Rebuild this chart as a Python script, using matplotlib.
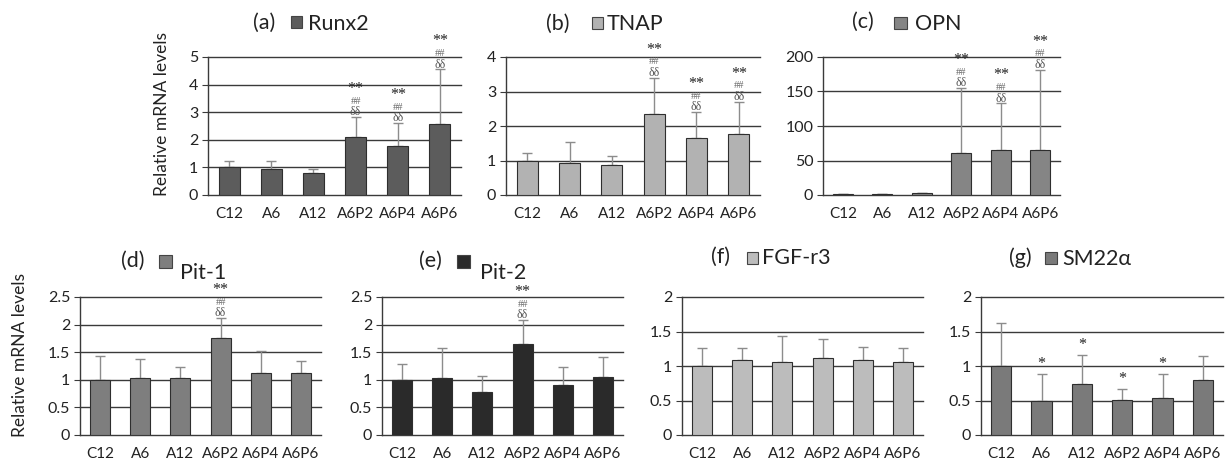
import matplotlib
matplotlib.use('Agg')
import matplotlib.pyplot as plt
from matplotlib.patches import Rectangle
import numpy as np

plt.rcParams['font.family'] = ['Lato', 'DejaVu Sans']

categories = ['C12', 'A6', 'A12', 'A6P2', 'A6P4', 'A6P6']

runx2_vals = [1.00, 0.95, 0.78, 2.10, 1.78, 2.57]
runx2_err = [0.25, 0.30, 0.15, 0.72, 0.82, 1.98]
runx2_sig = ['', '', '', 'full', 'full', 'full']

tnap_vals = [1.00, 0.92, 0.86, 2.35, 1.65, 1.78]
tnap_err = [0.22, 0.61, 0.26, 1.05, 0.75, 0.92]
tnap_sig = ['', '', '', 'full', 'full', 'full']

opn_vals = [1.0, 1.5, 2.5, 60.5, 65.0, 65.0]
opn_err = [0.3, 0.5, 0.8, 94.5, 67.7, 116.6]
opn_sig = ['', '', '', 'full', 'full', 'full']

pit1_vals = [1.00, 1.04, 1.03, 1.765, 1.13, 1.13]
pit1_err = [0.43, 0.34, 0.20, 0.355, 0.39, 0.21]
pit1_sig = ['', '', '', 'full', '', '']

pit2_vals = [1.00, 1.04, 0.78, 1.64, 0.90, 1.05]
pit2_err = [0.28, 0.54, 0.29, 0.44, 0.33, 0.37]
pit2_sig = ['', '', '', 'full', '', '']

fgfr3_vals = [1.00, 1.08, 1.06, 1.11, 1.08, 1.065]
fgfr3_err = [0.26, 0.18, 0.38, 0.28, 0.20, 0.195]
fgfr3_sig = ['', '', '', '', '', '']

sm22_vals = [1.00, 0.50, 0.735, 0.51, 0.54, 0.79]
sm22_err = [0.62, 0.38, 0.425, 0.16, 0.35, 0.36]
sm22_sig = ['', 'star', 'star', 'star', 'star', '']

W, H = 1232, 467
fig = plt.figure(figsize=(W / 100, H / 100), dpi=100)

GRID = '#3a3a3a'
ERR = '#8c8c8c'
TXT = '#222222'

panels = [
    dict(letter='(a)', gene='Runx2', vals=runx2_vals, err=runx2_err, sig=runx2_sig,
         color='#5c5c5c', ymax=5, ystep=1, box=(208, 461, 57, 195),
         t=(264, 23), sq=(291, 16, 11, 12), g=(308, 24)),
    dict(letter='(b)', gene='TNAP', vals=tnap_vals, err=tnap_err, sig=tnap_sig,
         color='#b2b2b2', ymax=4, ystep=1, box=(506, 760, 57, 195),
         t=(558, 24), sq=(592, 17, 11, 12), g=(607, 24)),
    dict(letter='(c)', gene='OPN', vals=opn_vals, err=opn_err, sig=opn_sig,
         color='#858585', ymax=200, ystep=50, box=(823, 1060, 57, 195),
         t=(863, 22), sq=(894, 17, 13, 12), g=(915, 24)),
    dict(letter='(d)', gene='Pit-1', vals=pit1_vals, err=pit1_err, sig=pit1_sig,
         color='#7e7e7e', ymax=2.5, ystep=0.5, box=(80, 321, 297, 435),
         t=(133, 261), sq=(159, 255, 13, 13), g=(180, 273)),
    dict(letter='(e)', gene='Pit-2', vals=pit2_vals, err=pit2_err, sig=pit2_sig,
         color='#2a2a2a', ymax=2.5, ystep=0.5, box=(382, 623, 297, 435),
         t=(430, 261), sq=(457, 255, 13, 13), g=(480, 273)),
    dict(letter='(f)', gene='FGF-r3', vals=fgfr3_vals, err=fgfr3_err, sig=fgfr3_sig,
         color='#bcbcbc', ymax=2, ystep=0.5, box=(682, 923, 297, 435),
         t=(720, 257), sq=(747, 252, 11, 12), g=(762, 258)),
    dict(letter='(g)', gene='SM22α', vals=sm22_vals, err=sm22_err, sig=sm22_sig,
         color='#7a7a7a', ymax=2, ystep=0.5, box=(981, 1223, 297, 435),
         t=(1020, 258), sq=(1045, 252, 12, 12), g=(1062, 259)),
]


def fmt(v):
    return ('%g' % v)


for p in panels:
    x0, x1, yt, yb = p['box']
    ax = fig.add_axes([x0 / W, 1 - yb / H, (x1 - x0) / W, (yb - yt) / H])
    x = np.arange(len(categories))
    ax.bar(x, p['vals'], width=0.5, color=p['color'], edgecolor='#2e2e2e',
           linewidth=0.8, zorder=3)
    ax.errorbar(x, p['vals'], yerr=[np.zeros(len(x)), p['err']], fmt='none',
                ecolor=ERR, elinewidth=1.0, capsize=3.5, capthick=1.0, zorder=2)
    ax.set_xlim(-0.5, len(categories) - 0.5)
    ax.set_ylim(0, p['ymax'])
    ticks = np.arange(0, p['ymax'] + 1e-9, p['ystep'])
    ax.set_yticks(ticks)
    ax.set_yticklabels([fmt(t) for t in ticks])
    ax.set_xticks(x)
    ax.set_xticklabels(categories)
    for t in ticks[1:]:
        ax.axhline(t, color=GRID, linewidth=1.0, zorder=1, clip_on=False)
    for s in ['top', 'right']:
        ax.spines[s].set_visible(False)
    ax.spines['left'].set_color(GRID)
    ax.spines['bottom'].set_color(GRID)
    ax.spines['left'].set_linewidth(1.0)
    ax.spines['bottom'].set_linewidth(1.0)
    ax.tick_params(axis='y', length=4, color=GRID, labelsize=11.5, pad=3,
                   labelcolor=TXT)
    ax.tick_params(axis='x', length=0, labelsize=11, pad=9, labelcolor=TXT)

    for i, s in enumerate(p['sig']):
        top = p['vals'][i] + p['err'][i]
        if s == 'full':
            ax.annotate('δδ', (i, top), xytext=(0, 3.5), textcoords='offset points',
                        ha='center', va='center', fontsize=8.5, color='#555555',
                        family=['Liberation Serif'], annotation_clip=False)
            ax.annotate('##', (i, top), xytext=(0, 11.5), textcoords='offset points',
                        ha='center', va='center', fontsize=7.5, color='#666666',
                        family=['Liberation Serif'], annotation_clip=False)
            ax.annotate('**', (i, top), xytext=(0, 14.5), textcoords='offset points',
                        ha='center', va='bottom', fontsize=11.5, color='#222222',
                        family=['Liberation Serif'], annotation_clip=False)
        elif s == 'star':
            ax.annotate('*', (i, top), xytext=(0, 1.5), textcoords='offset points',
                        ha='center', va='bottom', fontsize=11.5, color='#222222',
                        family=['Liberation Serif'], annotation_clip=False)

    tx, ty = p['t']
    fig.text(tx / W, 1 - ty / H, p['letter'], ha='center', va='center',
             fontsize=15.5, color=TXT)
    sx, sy, sw, sh = p['sq']
    fig.patches.append(Rectangle((sx / W, 1 - (sy + sh) / H), sw / W, sh / H,
                                 transform=fig.transFigure, facecolor=p['color'],
                                 edgecolor='#444444', linewidth=0.8))
    gx, gy = p['g']
    fig.text(gx / W, 1 - gy / H, p['gene'], ha='left', va='center',
             fontsize=15.5, color=TXT)

fig.text(162 / W, 1 - 114 / H, 'Relative mRNA levels', rotation=90,
         ha='center', va='center', fontsize=12.5, color=TXT)
fig.text(20 / W, 1 - 355 / H, 'Relative mRNA levels', rotation=90,
         ha='center', va='center', fontsize=12.5, color=TXT)

fig.savefig('out.png', dpi=100)
